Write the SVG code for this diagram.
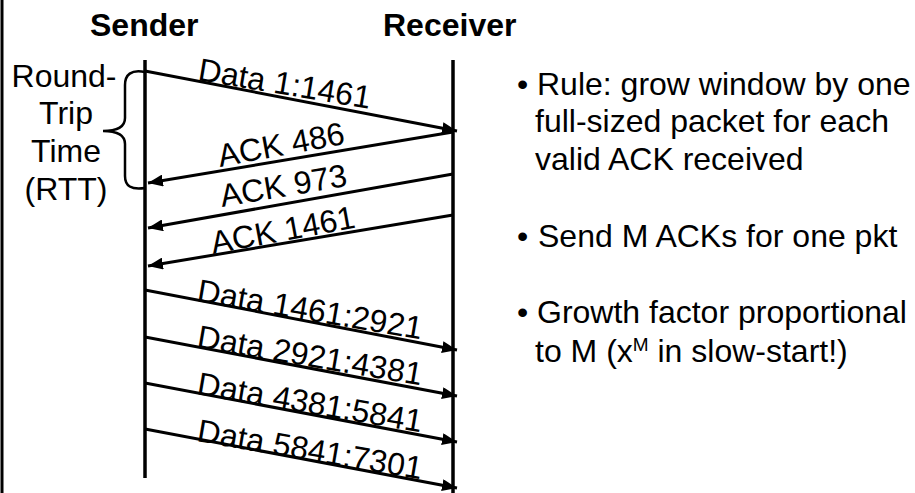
<svg xmlns="http://www.w3.org/2000/svg" width="915" height="493" viewBox="0 0 915 493">
<style>
text{font-family:"Liberation Sans",Arial,sans-serif;font-size:32px;fill:#000}
.b{font-weight:bold}
.m{text-anchor:middle}
.ln{stroke:#000;stroke-width:3.5;fill:none}
.ar{stroke:#000;stroke-width:3;fill:none;marker-end:url(#ah)}
</style>
<defs>
<marker id="ah" markerWidth="15" markerHeight="12" refX="15" refY="6" orient="auto" markerUnits="userSpaceOnUse"><path d="M0,0 L15,6 L0,12 Z" fill="#000"/></marker>
</defs>
<rect width="915" height="493" fill="#fff"/>
<line x1="2" y1="0" x2="2" y2="493" stroke="#000" stroke-width="3"/>
<g id="sender"><text class="b" x="90" y="36">Sender</text><line class="ln" x1="145" y1="60" x2="145" y2="478"/></g>
<g id="receiver"><text class="b" x="383" y="36">Receiver</text><line class="ln" x1="453" y1="60" x2="453" y2="493"/></g>
<g id="rtt">
<text class="m" x="64" y="87">Round-</text>
<text class="m" x="66" y="124">Trip</text>
<text class="m" x="66" y="162">Time</text>
<text class="m" x="66" y="200">(RTT)</text>
<path d="M145,72 C131,69 125,75 125,85 L125,118 C125,127 118,131 103,131 C118,131 125,135 125,144 L125,176 C125,186 131,190 145,188" stroke="#000" stroke-width="2.5" fill="none"/>
</g>
<g id="connectors">
<line class="ar" x1="145" y1="71" x2="457" y2="131"/>
<line class="ar" x1="453" y1="132" x2="148" y2="183"/>
<line class="ar" x1="453" y1="174" x2="148" y2="228"/>
<line class="ar" x1="453" y1="215" x2="148" y2="266"/>
<line class="ar" x1="145" y1="290" x2="457" y2="350"/>
<line class="ar" x1="145" y1="337" x2="457" y2="396"/>
<line class="ar" x1="145" y1="383" x2="457" y2="442"/>
<line class="ar" x1="145" y1="429" x2="457" y2="488"/>
</g>
<g id="labels">
<text transform="translate(197,80) rotate(9.5)">Data 1:1461</text>
<text transform="translate(220,167) rotate(-10.5)">ACK 486</text>
<text transform="translate(222,207) rotate(-9.5)">ACK 973</text>
<text transform="translate(213,254) rotate(-10.5)">ACK 1461</text>
<text transform="translate(196,301) rotate(9.7)">Data 1461:2921</text>
<text transform="translate(196,347) rotate(9.7)">Data 2921:4381</text>
<text transform="translate(196,394) rotate(9.7)">Data 4381:5841</text>
<text transform="translate(196,441) rotate(9.7)">Data 5841:7301</text>
</g>
<g id="notes">
<text x="517" y="95">•</text>
<text x="537" y="95">Rule: grow window by one</text>
<text x="535" y="132">full-sized packet for each</text>
<text x="535" y="170">valid ACK received</text>
<text x="517" y="247">•</text>
<text x="538" y="247">Send M ACKs for one pkt</text>
<text x="517" y="323">•</text>
<text x="537" y="323">Growth factor proportional</text>
<text x="535" y="362">to M (x<tspan font-size="19" dy="-11">M</tspan><tspan dy="11"> in slow-start!)</tspan></text>
</g>
</svg>
